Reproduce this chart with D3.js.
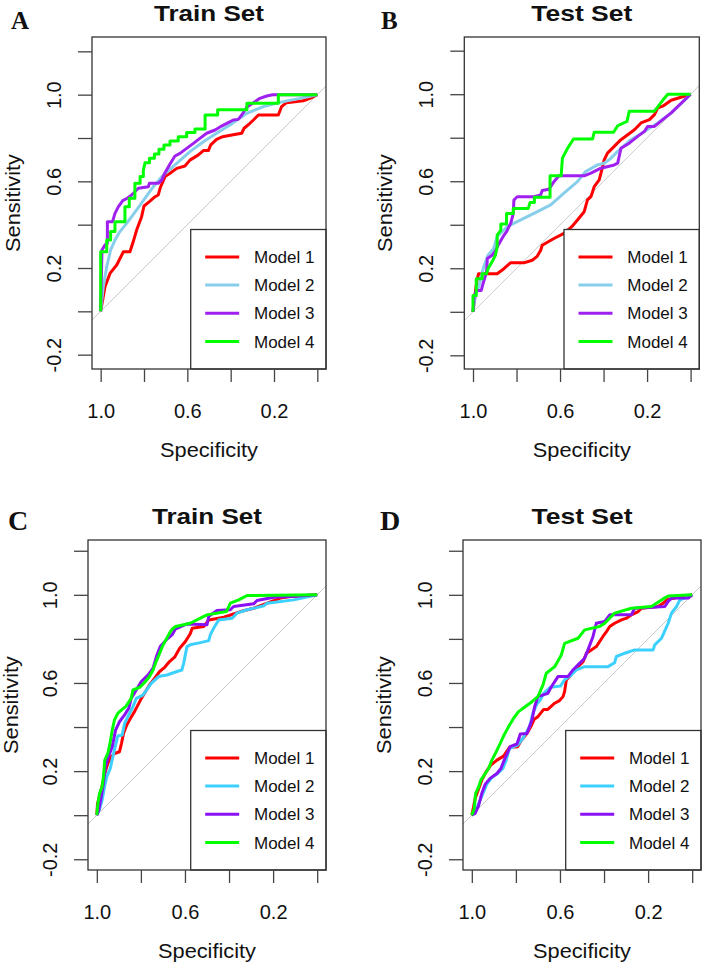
<!DOCTYPE html>
<html>
<head>
<meta charset="utf-8">
<script src="https://cdn.jsdelivr.net/npm/d3@7"></script>
<style>
  body { margin: 0; background: #fff; }
  text { font-family: "Liberation Sans", Arial, sans-serif; fill: #111; }
</style>
</head>
<body>
<div id="chart"></div>
<script>
// ROC points as [1 - specificity, sensitivity]
const trainA_m1 = [[0,0],[0.02,0.114],[0.043,0.175],[0.074,0.214],[0.105,0.275],[0.135,0.275],[0.148,0.314],[0.166,0.375],[0.189,0.437],[0.2,0.486],[0.225,0.506],[0.251,0.529],[0.266,0.537],[0.274,0.568],[0.297,0.622],[0.32,0.637],[0.351,0.66],[0.389,0.671],[0.412,0.698],[0.451,0.722],[0.474,0.742],[0.497,0.742],[0.508,0.768],[0.535,0.794],[0.563,0.806],[0.605,0.814],[0.651,0.822],[0.662,0.845],[0.689,0.868],[0.705,0.883],[0.728,0.906],[0.82,0.906],[0.835,0.945],[0.858,0.963],[0.935,0.972],[0.966,0.983],[1,1]];
const trainA_m2 = [[0,0],[0.012,0.114],[0.028,0.206],[0.046,0.283],[0.066,0.329],[0.089,0.368],[0.12,0.406],[0.166,0.468],[0.205,0.522],[0.243,0.575],[0.289,0.629],[0.351,0.683],[0.412,0.737],[0.474,0.783],[0.535,0.822],[0.597,0.86],[0.674,0.914],[0.751,0.945],[0.843,0.968],[0.92,0.983],[1,1]];
const trainA_m3 = [[0,0],[0.006,0.283],[0.02,0.306],[0.031,0.314],[0.031,0.414],[0.055,0.414],[0.066,0.452],[0.082,0.483],[0.102,0.511],[0.123,0.522],[0.143,0.537],[0.174,0.568],[0.22,0.575],[0.225,0.591],[0.266,0.591],[0.282,0.606],[0.297,0.64],[0.32,0.68],[0.343,0.717],[0.366,0.729],[0.397,0.752],[0.428,0.775],[0.458,0.798],[0.489,0.822],[0.528,0.837],[0.558,0.855],[0.589,0.871],[0.612,0.883],[0.635,0.886],[0.651,0.906],[0.674,0.942],[0.705,0.963],[0.735,0.983],[0.766,0.994],[0.794,1],[1,1]];
const trainA_m4 = [[0,0],[0,0.275],[0.028,0.275],[0.028,0.329],[0.046,0.329],[0.046,0.368],[0.066,0.368],[0.066,0.414],[0.112,0.414],[0.112,0.483],[0.132,0.483],[0.132,0.522],[0.158,0.522],[0.158,0.591],[0.182,0.591],[0.182,0.622],[0.197,0.622],[0.197,0.652],[0.205,0.686],[0.225,0.686],[0.225,0.706],[0.248,0.706],[0.248,0.726],[0.269,0.726],[0.269,0.748],[0.292,0.748],[0.292,0.768],[0.32,0.768],[0.32,0.786],[0.358,0.786],[0.358,0.806],[0.397,0.806],[0.397,0.825],[0.435,0.825],[0.435,0.842],[0.482,0.842],[0.482,0.906],[0.54,0.906],[0.54,0.93],[0.675,0.93],[0.675,0.96],[0.82,0.96],[0.82,1],[1,1]];

const testB_m1 = [[0,0],[0.008,0.068],[0.018,0.145],[0.026,0.175],[0.111,0.175],[0.142,0.198],[0.172,0.225],[0.234,0.225],[0.272,0.237],[0.295,0.255],[0.311,0.283],[0.318,0.306],[0.372,0.337],[0.418,0.36],[0.454,0.391],[0.48,0.422],[0.511,0.46],[0.526,0.514],[0.542,0.529],[0.557,0.575],[0.58,0.606],[0.592,0.652],[0.603,0.698],[0.618,0.729],[0.649,0.76],[0.68,0.791],[0.711,0.814],[0.742,0.837],[0.772,0.868],[0.811,0.883],[0.834,0.906],[0.849,0.937],[0.872,0.945],[0.911,0.972],[1,1]];
const testB_m2 = [[0,0],[0.011,0.075],[0.026,0.114],[0.049,0.206],[0.069,0.26],[0.095,0.291],[0.111,0.345],[0.157,0.391],[0.203,0.414],[0.28,0.452],[0.357,0.491],[0.418,0.545],[0.48,0.598],[0.518,0.645],[0.572,0.675],[0.603,0.683],[0.634,0.706],[0.665,0.737],[0.726,0.791],[0.788,0.829],[0.849,0.868],[0.911,0.914],[1,1]];
const testB_m3 = [[0,0],[0.005,0.068],[0.015,0.098],[0.038,0.098],[0.046,0.129],[0.062,0.183],[0.066,0.245],[0.088,0.26],[0.103,0.28],[0.118,0.311],[0.138,0.345],[0.154,0.368],[0.174,0.409],[0.185,0.452],[0.188,0.514],[0.203,0.529],[0.28,0.529],[0.311,0.537],[0.318,0.557],[0.349,0.563],[0.372,0.598],[0.395,0.625],[0.511,0.625],[0.542,0.637],[0.588,0.66],[0.649,0.675],[0.665,0.683],[0.68,0.752],[0.718,0.775],[0.757,0.806],[0.788,0.829],[0.803,0.852],[0.834,0.852],[0.872,0.883],[0.911,0.914],[1,1]];
const testB_m4 = [[0,0],[0,0.075],[0.015,0.075],[0.015,0.152],[0.042,0.152],[0.042,0.175],[0.062,0.175],[0.069,0.198],[0.085,0.225],[0.103,0.26],[0.111,0.298],[0.111,0.352],[0.128,0.375],[0.128,0.403],[0.154,0.403],[0.154,0.452],[0.185,0.452],[0.185,0.475],[0.254,0.475],[0.262,0.502],[0.282,0.502],[0.282,0.526],[0.354,0.526],[0.354,0.625],[0.405,0.625],[0.411,0.706],[0.435,0.752],[0.462,0.794],[0.549,0.794],[0.557,0.825],[0.646,0.825],[0.665,0.855],[0.708,0.875],[0.718,0.922],[0.834,0.922],[0.872,0.972],[0.895,1],[1,1]];

const trainC_m1 = [[0,0],[0.003,0.05],[0.015,0.098],[0.027,0.144],[0.036,0.189],[0.05,0.235],[0.065,0.265],[0.08,0.28],[0.103,0.288],[0.112,0.326],[0.121,0.371],[0.136,0.409],[0.152,0.439],[0.171,0.47],[0.197,0.52],[0.221,0.561],[0.239,0.591],[0.262,0.621],[0.285,0.652],[0.308,0.671],[0.33,0.697],[0.353,0.717],[0.376,0.758],[0.402,0.788],[0.424,0.823],[0.433,0.848],[0.485,0.856],[0.508,0.886],[0.576,0.898],[0.652,0.924],[0.712,0.939],[0.773,0.962],[0.833,0.985],[0.879,0.992],[1,1]];
const trainC_m2 = [[0,0],[0.012,0.026],[0.024,0.068],[0.035,0.129],[0.045,0.174],[0.061,0.212],[0.076,0.28],[0.095,0.359],[0.115,0.364],[0.126,0.417],[0.145,0.455],[0.164,0.492],[0.179,0.53],[0.209,0.545],[0.247,0.598],[0.28,0.629],[0.318,0.636],[0.364,0.652],[0.386,0.659],[0.394,0.689],[0.409,0.765],[0.424,0.773],[0.47,0.783],[0.508,0.792],[0.515,0.818],[0.53,0.848],[0.553,0.886],[0.614,0.894],[0.636,0.917],[0.682,0.932],[0.758,0.95],[0.773,0.962],[0.894,0.977],[1,1]];
const trainC_m3 = [[0,0],[0.009,0.023],[0.02,0.083],[0.03,0.144],[0.039,0.22],[0.05,0.258],[0.07,0.311],[0.085,0.386],[0.103,0.424],[0.126,0.455],[0.145,0.485],[0.156,0.53],[0.179,0.568],[0.202,0.606],[0.232,0.636],[0.255,0.667],[0.273,0.727],[0.288,0.765],[0.315,0.795],[0.341,0.818],[0.356,0.844],[0.409,0.868],[0.5,0.864],[0.508,0.902],[0.545,0.929],[0.606,0.932],[0.621,0.947],[0.712,0.959],[0.727,0.974],[0.803,0.989],[0.879,0.992],[1,1]];
const trainC_m4 = [[0,0],[0.005,0.053],[0.012,0.098],[0.024,0.129],[0.03,0.174],[0.036,0.25],[0.05,0.28],[0.061,0.333],[0.07,0.386],[0.08,0.432],[0.095,0.462],[0.111,0.477],[0.133,0.495],[0.156,0.53],[0.164,0.568],[0.194,0.58],[0.217,0.602],[0.239,0.629],[0.255,0.659],[0.267,0.692],[0.282,0.727],[0.297,0.765],[0.315,0.798],[0.33,0.826],[0.342,0.844],[0.358,0.856],[0.424,0.871],[0.47,0.894],[0.5,0.909],[0.588,0.924],[0.606,0.962],[0.644,0.977],[0.682,0.997],[1,1]];

const testD_m1 = [[0,0],[0.008,0.038],[0.015,0.076],[0.03,0.117],[0.045,0.159],[0.065,0.197],[0.086,0.227],[0.114,0.25],[0.144,0.268],[0.171,0.308],[0.208,0.311],[0.223,0.338],[0.25,0.371],[0.268,0.402],[0.283,0.435],[0.3,0.447],[0.326,0.48],[0.345,0.48],[0.361,0.495],[0.376,0.508],[0.398,0.52],[0.414,0.538],[0.421,0.561],[0.429,0.614],[0.444,0.629],[0.459,0.652],[0.482,0.674],[0.505,0.697],[0.52,0.735],[0.542,0.75],[0.565,0.765],[0.595,0.811],[0.611,0.833],[0.626,0.856],[0.648,0.871],[0.679,0.886],[0.702,0.894],[0.724,0.909],[0.755,0.924],[0.77,0.939],[0.845,0.947],[0.868,0.962],[0.891,0.98],[0.921,0.985],[1,1]];
const testD_m2 = [[0,0],[0.02,0.026],[0.035,0.061],[0.05,0.098],[0.068,0.141],[0.091,0.171],[0.117,0.189],[0.141,0.212],[0.156,0.25],[0.171,0.303],[0.208,0.318],[0.235,0.353],[0.262,0.402],[0.277,0.462],[0.295,0.505],[0.311,0.523],[0.326,0.553],[0.356,0.58],[0.402,0.586],[0.421,0.614],[0.447,0.632],[0.474,0.659],[0.512,0.674],[0.618,0.674],[0.648,0.692],[0.656,0.72],[0.694,0.735],[0.739,0.75],[0.823,0.75],[0.83,0.773],[0.861,0.803],[0.891,0.871],[0.906,0.917],[0.929,0.947],[0.944,0.977],[0.967,0.985],[1,1]];
const testD_m3 = [[0,0],[0.015,0.008],[0.03,0.041],[0.045,0.098],[0.061,0.141],[0.083,0.167],[0.114,0.189],[0.132,0.212],[0.147,0.25],[0.174,0.311],[0.205,0.323],[0.22,0.368],[0.25,0.371],[0.273,0.432],[0.285,0.492],[0.3,0.538],[0.345,0.553],[0.361,0.583],[0.391,0.629],[0.436,0.629],[0.459,0.659],[0.482,0.682],[0.512,0.712],[0.527,0.75],[0.55,0.811],[0.565,0.871],[0.603,0.879],[0.626,0.909],[0.724,0.909],[0.739,0.939],[0.876,0.947],[0.891,0.97],[0.906,0.985],[0.982,0.985],[1,1]];
const testD_m4 = [[0,0],[0.011,0.03],[0.017,0.098],[0.03,0.126],[0.041,0.159],[0.056,0.182],[0.076,0.212],[0.091,0.25],[0.111,0.288],[0.129,0.326],[0.144,0.359],[0.167,0.402],[0.189,0.439],[0.212,0.47],[0.242,0.492],[0.273,0.515],[0.3,0.538],[0.323,0.591],[0.338,0.644],[0.376,0.674],[0.406,0.727],[0.421,0.78],[0.482,0.803],[0.512,0.841],[0.58,0.856],[0.603,0.871],[0.648,0.917],[0.724,0.939],[0.815,0.947],[0.861,0.977],[0.891,0.995],[1,1]];

const models = ['Model 1', 'Model 2', 'Model 3', 'Model 4'];
const colorsTop = ['#ff0000', '#87ceeb', '#a020f0', '#00ff00'];
const colorsBottom = ['#ff0000', '#3cd0ff', '#8a10f5', '#00ff00'];
const specTicks = [1.0, 0.8, 0.6, 0.4, 0.2, 0.0];
const sensTicks = [1.2, 1.0, 0.8, 0.6, 0.4, 0.2, 0.0, -0.2];
const labelledTicks = [1.0, 0.6, 0.2, -0.2];

const panels = [
    {letter: 'A', title: 'Train Set', box: {l: 92, t: 37, r: 326, b: 369}, curves: [trainA_m1, trainA_m2, trainA_m3, trainA_m4], colors: colorsTop, letterPos: [11, 29], letterSize: 25},
    {letter: 'B', title: 'Test Set', box: {l: 464.3, t: 37, r: 699.3, b: 369}, curves: [testB_m1, testB_m2, testB_m3, testB_m4], colors: colorsTop, letterPos: [381, 29], letterSize: 25},
    {letter: 'C', title: 'Train Set', box: {l: 88, t: 540, r: 326, b: 870}, curves: [trainC_m1, trainC_m2, trainC_m3, trainC_m4], colors: colorsBottom, letterPos: [8, 530], letterSize: 28},
    {letter: 'D', title: 'Test Set', box: {l: 463, t: 540, r: 701, b: 870}, curves: [testD_m1, testD_m2, testD_m3, testD_m4], colors: colorsBottom, letterPos: [380, 530], letterSize: 28}
];

const svg = d3.select('#chart').append('svg')
    .attr('width', 702)
    .attr('height', 963);

panels.forEach(p => {
    const {l, t, r, b} = p.box;
    // asp = 1 like pROC: same px per unit on both axes
    const k = (r - l) / 1.08;
    const half = (b - t) / 2 / k;
    const x = d3.scaleLinear().domain([1.04, -0.04]).range([l, r]);
    const y = d3.scaleLinear().domain([0.5 - half, 0.5 + half]).range([b, t]);

    const g = svg.append('g');

    // diagonal reference
    g.append('line')
        .attr('x1', x(1.04)).attr('y1', y(-0.04))
        .attr('x2', x(-0.04)).attr('y2', y(1.04))
        .attr('stroke', '#c8c8c8')
        .attr('stroke-width', 1);

    const line = d3.line()
        .x(d => x(1 - d[0]))
        .y(d => y(d[1]));

    p.curves.forEach((c, i) => {
        g.append('path')
            .datum(c)
            .attr('d', line)
            .attr('fill', 'none')
            .attr('stroke', p.colors[i])
            .attr('stroke-width', 3)
            .attr('stroke-linejoin', 'round');
    });

    // legend, bottom right
    const legW = 135.3, legH = 139.5;
    const leg = g.append('g').attr('transform', `translate(${r - legW}, ${b - legH})`);
    leg.append('rect')
        .attr('width', legW).attr('height', legH)
        .attr('fill', '#fff')
        .attr('stroke', '#333')
        .attr('stroke-width', 1.3);
    models.forEach((m, i) => {
        const ly = 27.4 + i * 28.2;
        leg.append('line')
            .attr('x1', 14.5).attr('x2', 48.5)
            .attr('y1', ly).attr('y2', ly)
            .attr('stroke', p.colors[i])
            .attr('stroke-width', 3);
        leg.append('text')
            .attr('x', 63.3).attr('y', ly)
            .attr('dy', '0.36em')
            .style('font-size', '17px')
            .text(m);
    });

    // plot box
    g.append('rect')
        .attr('x', l).attr('y', t)
        .attr('width', r - l).attr('height', b - t)
        .attr('fill', 'none')
        .attr('stroke', '#333')
        .attr('stroke-width', 1.3);

    // x axis
    const xAxis = g.append('g')
        .attr('transform', `translate(0, ${b})`)
        .call(d3.axisBottom(x).tickValues(specTicks).tickSize(13).tickSizeOuter(0)
            .tickFormat(d => labelledTicks.includes(d) ? d.toFixed(1) : ''));
    xAxis.select('.domain').remove();
    xAxis.selectAll('.tick line').attr('stroke', '#444').attr('stroke-width', 1.3);
    xAxis.selectAll('.tick text')
        .attr('y', 49).attr('dy', 0)
        .style('font-size', '20px')
        .style('font-family', '"Liberation Sans", Arial, sans-serif')
        .attr('fill', '#111');

    // y axis
    const yAxis = g.append('g')
        .attr('transform', `translate(${l}, 0)`)
        .call(d3.axisLeft(y).tickValues(sensTicks).tickSize(14).tickSizeOuter(0)
            .tickFormat(d => labelledTicks.includes(d) ? d.toFixed(1) : ''));
    yAxis.select('.domain').remove();
    yAxis.selectAll('.tick line').attr('stroke', '#444').attr('stroke-width', 1.3);
    yAxis.selectAll('.tick text')
        .attr('x', 0).attr('dy', 0)
        .attr('text-anchor', 'middle')
        .attr('transform', 'translate(-31, 0) rotate(-90)')
        .style('font-size', '20px')
        .style('font-family', '"Liberation Sans", Arial, sans-serif')
        .attr('fill', '#111');

    // axis titles
    g.append('text')
        .attr('x', (l + r) / 2).attr('y', b + 88)
        .attr('text-anchor', 'middle')
        .attr('textLength', 98)
        .attr('lengthAdjust', 'spacingAndGlyphs')
        .style('font-size', '20px')
        .text('Specificity');
    g.append('text')
        .attr('transform', `translate(${Math.max(l - 72, 18)}, ${(t + b) / 2}) rotate(-90)`)
        .attr('text-anchor', 'middle')
        .attr('textLength', 98)
        .attr('lengthAdjust', 'spacingAndGlyphs')
        .style('font-size', '20px')
        .text('Sensitivity');

    // title
    g.append('text')
        .attr('x', (l + r) / 2).attr('y', t - 16.5)
        .attr('text-anchor', 'middle')
        .attr('textLength', p.title === 'Train Set' ? 110 : 101)
        .attr('lengthAdjust', 'spacingAndGlyphs')
        .style('font-size', '22px')
        .style('font-weight', 'bold')
        .text(p.title);

    // panel letter
    g.append('text')
        .attr('x', p.letterPos[0]).attr('y', p.letterPos[1])
        .style('font-family', '"Liberation Serif", "Times New Roman", serif')
        .style('font-size', p.letterSize + 'px')
        .style('font-weight', 'bold')
        .text(p.letter);
});
</script>
</body>
</html>
